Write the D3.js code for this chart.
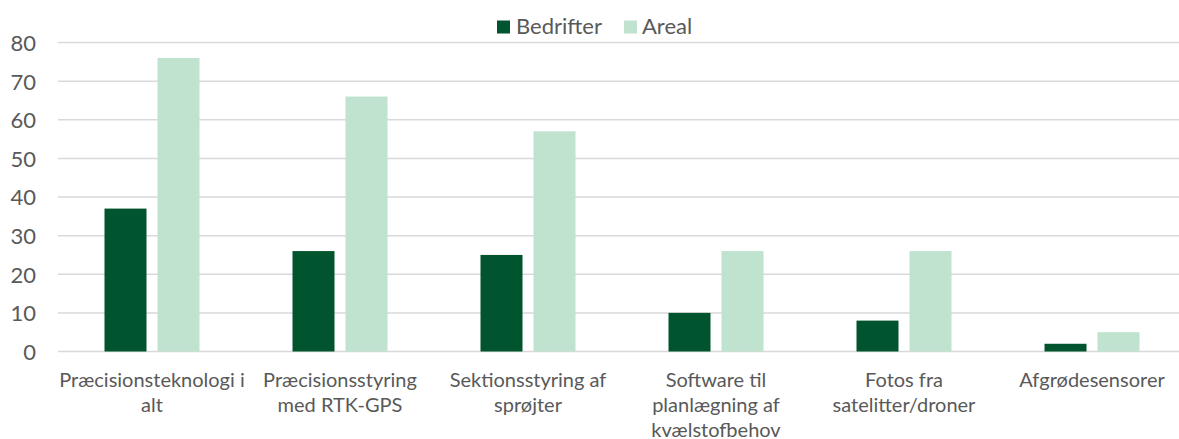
<!DOCTYPE html>
<html>
<head>
<meta charset="utf-8">
<script src="https://cdn.jsdelivr.net/npm/d3@7"></script>
<style>
  html, body { margin: 0; padding: 0; background: #fff; }
  svg { display: block; }
  text { font-family: Lato, sans-serif; fill: #595959; }
</style>
</head>
<body>
<svg id="chart" width="1179" height="439"></svg>
<script>
// Category labels, already broken into display lines
const categories = [
  ["Præcisionsteknologi i", "alt"],
  ["Præcisionsstyring", "med RTK-GPS"],
  ["Sektionsstyring af", "sprøjter"],
  ["Software til", "planlægning af", "kvælstofbehov"],
  ["Fotos fra", "satelitter/droner"],
  ["Afgrødesensorer"]
];
const seriesNames = ["Bedrifter", "Areal"];
const bedrifter = [37, 26, 25, 10, 8, 2];
const areal = [76, 66, 57, 26, 26, 5];
const yTicks = [0, 10, 20, 30, 40, 50, 60, 70, 80];

const colors = { Bedrifter: "#00552e", Areal: "#bfe3cf" };

const svg = d3.select("#chart");
const margin = { left: 58, top: 42.5, bottom: 351.5 };
const plotRight = margin.left + 6 * 188;

const x0 = d3.scaleBand()
  .domain(d3.range(categories.length))
  .range([margin.left, plotRight])
  .paddingInner(0).paddingOuter(0);

// two 42px bars with an 11px gap, centred in each 188px band
const x1 = d3.scaleBand()
  .domain(seriesNames)
  .range([46.5, x0.bandwidth() - 46.5])
  .paddingInner(11 / 53)
  .paddingOuter(0);

const y = d3.scaleLinear().domain([0, 80]).range([margin.bottom, margin.top]);

// Horizontal gridlines
svg.append("g")
  .selectAll("line")
  .data(yTicks)
  .join("line")
  .attr("x1", margin.left)
  .attr("x2", plotRight)
  .attr("y1", d => y(d))
  .attr("y2", d => y(d))
  .attr("stroke", "#d9d9d9")
  .attr("stroke-width", 1.5);

// Y axis labels
const yAxis = d3.axisLeft(y).tickValues(yTicks).tickSize(0).tickPadding(0);
const gy = svg.append("g")
  .attr("transform", `translate(36,0)`)
  .call(yAxis);
gy.select(".domain").remove();
gy.selectAll("text")
  .attr("font-size", 22)
  .attr("font-family", "Lato, sans-serif")
  .attr("fill", "#595959")
  .attr("dy", "0.36em");

// Bars
const rows = categories.map((c, i) => ({ i, Bedrifter: bedrifter[i], Areal: areal[i] }));
const groups = svg.append("g")
  .selectAll("g")
  .data(rows)
  .join("g")
  .attr("transform", d => `translate(${x0(d.i)},0)`);

groups.selectAll("rect")
  .data(d => seriesNames.map(k => ({ key: k, value: d[k] })))
  .join("rect")
  .attr("x", d => x1(d.key))
  .attr("width", x1.bandwidth())
  .attr("y", d => y(d.value))
  .attr("height", d => y(0) - y(d.value))
  .attr("fill", d => colors[d.key]);

// Category labels
const labels = svg.append("g")
  .selectAll("text")
  .data(categories)
  .join("text")
  .attr("text-anchor", "middle")
  .attr("font-size", 20)
  .attr("x", (d, i) => x0(i) + x0.bandwidth() / 2)
  .attr("y", 386.5);
labels.selectAll("tspan")
  .data(d => d)
  .join("tspan")
  .attr("x", function () { return d3.select(this.parentNode).attr("x"); })
  .attr("dy", (d, i) => i === 0 ? 0 : 25)
  .text(d => d);

// Legend
const legendItems = [
  { key: "Bedrifter", sx: 497, tx: 516 },
  { key: "Areal", sx: 624, tx: 642 }
];
const lg = svg.append("g");
lg.selectAll("rect")
  .data(legendItems)
  .join("rect")
  .attr("x", d => d.sx)
  .attr("y", 20.5)
  .attr("width", 13)
  .attr("height", 13)
  .attr("fill", d => colors[d.key]);
lg.selectAll("text")
  .data(legendItems)
  .join("text")
  .attr("x", d => d.tx)
  .attr("y", 34)
  .attr("font-size", 22)
  .text(d => d.key);
</script>
</body>
</html>
